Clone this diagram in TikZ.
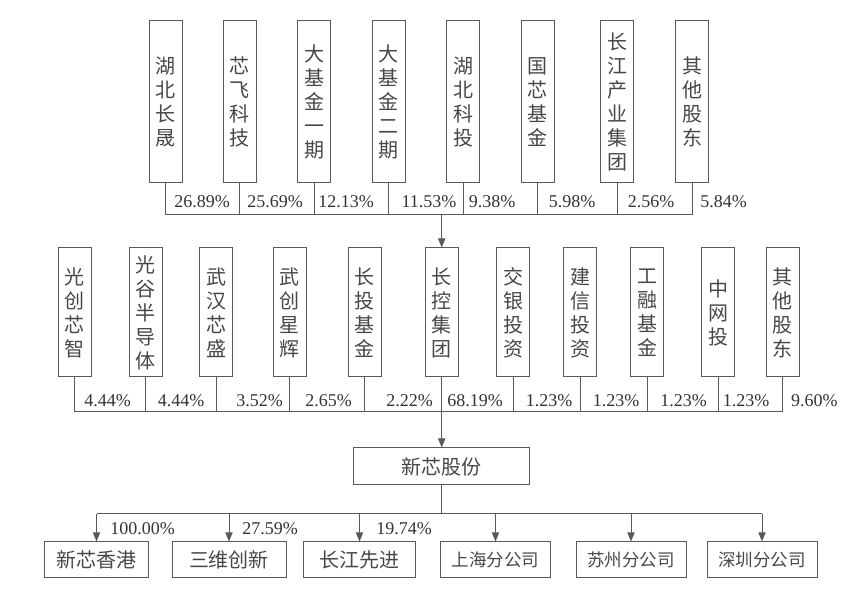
\documentclass[tikz,border=0pt]{standalone}
\usepackage{fontspec}
\setmainfont{Liberation Serif}
\newfontfamily\cjk{Noto Sans CJK SC}
\usetikzlibrary{arrows.meta}

\begin{document}
\begin{tikzpicture}[
    x=0.5pt, y=-0.5pt,
    every node/.style={text=black!80},
    holder/.style={rectangle, draw=black!65, line width=0.5pt, minimum width=16.5pt, minimum height=#1, inner sep=0pt, align=center, text=black!72, font=\cjk\fontsize{10}{12}\selectfont},
    holder/.default={81pt},
    firm/.style={rectangle, draw=black!65, line width=0.5pt, minimum width=#1, minimum height=18pt, inner sep=0pt, text=black!72, font=\cjk\fontsize{10}{12}\selectfont},
    branch/.style={firm=#1, font=\cjk\fontsize{8.75}{10}\selectfont},
    pct/.style={anchor=base, inner sep=0pt, font=\fontsize{9}{10}\selectfont},
    link/.style={draw=black!65, line width=0.5pt},
    arr/.style={link, -{Triangle[length=4.5pt, width=3.6pt]}}
]
\useasboundingbox (0,0) rectangle (859,598);

% shareholders of the group
\node[holder] (s1) at (165.5,102) {湖\\北\\长\\晟};
\node[holder] (s2) at (239.5,102) {芯\\飞\\科\\技};
\node[holder] (s3) at (314,102) {大\\基\\金\\一\\期};
\node[holder] (s4) at (388.5,102) {大\\基\\金\\二\\期};
\node[holder] (s5) at (463,102) {湖\\北\\科\\投};
\node[holder] (s6) at (537.5,102) {国\\芯\\基\\金};
\node[holder] (s7) at (617,102) {长\\江\\产\\业\\集\\团};
\node[holder] (s8) at (692,102) {其\\他\\股\\东};

\coordinate (topbus) at (0,215);
\coordinate (midbus) at (0,412);
\coordinate (lowbus) at (0,514);

\node[pct] (p1) at (202,208) {26.89\%};
\node[pct] (p2) at (275,208) {25.69\%};
\node[pct] (p3) at (346,208) {12.13\%};
\node[pct] (p4) at (429,208) {11.53\%};
\node[pct] (p5) at (492,208) {9.38\%};
\node[pct] (p6) at (572,208) {5.98\%};
\node[pct] (p7) at (651,208) {2.56\%};
\node[pct, anchor=base west] (p8) at (700,208) {5.84\%};

% shareholders of the company
\node[holder=64.5pt] (m1) at (74.5,312.5) {光\\创\\芯\\智};
\node[holder=64.5pt] (m2) at (145.5,312.5) {光\\谷\\半\\导\\体};
\node[holder=64.5pt] (m3) at (216,312.5) {武\\汉\\芯\\盛};
\node[holder=64.5pt] (m4) at (289.5,312.5) {武\\创\\星\\辉};
\node[holder=64.5pt] (m5) at (364.5,312.5) {长\\投\\基\\金};
\node[holder=64.5pt] (m6) at (441.7,312.5) {长\\控\\集\\团};
\node[holder=64.5pt] (m7) at (513,312.5) {交\\银\\投\\资};
\node[holder=64.5pt] (m8) at (580,312.5) {建\\信\\投\\资};
\node[holder=64.5pt] (m9) at (647,312.5) {工\\融\\基\\金};
\node[holder=64.5pt] (m10) at (718,312.5) {中\\网\\投};
\node[holder=64.5pt] (m11) at (782.7,312.5) {其\\他\\股\\东};

\node[pct] (q1) at (107.6,407) {4.44\%};
\node[pct] (q2) at (181,407) {4.44\%};
\node[pct] (q3) at (259.6,407) {3.52\%};
\node[pct] (q4) at (328.5,407) {2.65\%};
\node[pct] (q5) at (409.5,407) {2.22\%};
\node[pct] (q6) at (475,407) {68.19\%};
\node[pct] (q7) at (549,407) {1.23\%};
\node[pct] (q8) at (616,407) {1.23\%};
\node[pct] (q9) at (683.6,407) {1.23\%};
\node[pct] (q10) at (746,407) {1.23\%};
\node[pct, anchor=base west] (q11) at (790.7,407) {9.60\%};

% company and subsidiaries
\node[firm=88pt, minimum height=18.5pt] (co) at (441.7,466.5) {新芯股份};

\node[firm=52pt] (z1) at (96.5,560) {新芯香港};
\node[firm=57pt] (z2) at (229,560) {三维创新};
\node[firm=56pt] (z3) at (359.5,560) {长江先进};
\node[branch=55pt] (z4) at (495.5,560) {上海分公司};
\node[branch=55pt] (z5) at (631,560) {苏州分公司};
\node[branch=55pt] (z6) at (762,560) {深圳分公司};

\node[pct, anchor=base west] (r1) at (110,535) {100.00\%};
\node[pct, anchor=base west] (r2) at (242,535) {27.59\%};
\node[pct, anchor=base west] (r3) at (376,535) {19.74\%};

% connectors
\foreach \n in {s1,s2,s3,s4,s5,s6,s7,s8}
    \draw[link] (\n.south) -- (\n.south |- topbus);
\draw[link] (s1.south |- topbus) -- (s8.south |- topbus);
\draw[arr] (m6.north |- topbus) -- (m6.north);

\foreach \n in {m1,m2,m3,m4,m5,m6,m7,m8,m9,m10,m11}
    \draw[link] (\n.south) -- (\n.south |- midbus);
\draw[link] (m1.south |- midbus) -- (m11.south |- midbus);
\draw[arr] (co.north |- midbus) -- (co.north);

\draw[link] (co.south) -- (co.south |- lowbus);
\draw[link] (z1.north |- lowbus) -- (z6.north |- lowbus);
\foreach \n in {z1,z2,z3,z4,z5,z6}
    \draw[arr] (\n.north |- lowbus) -- (\n.north);

\end{tikzpicture}
\end{document}
